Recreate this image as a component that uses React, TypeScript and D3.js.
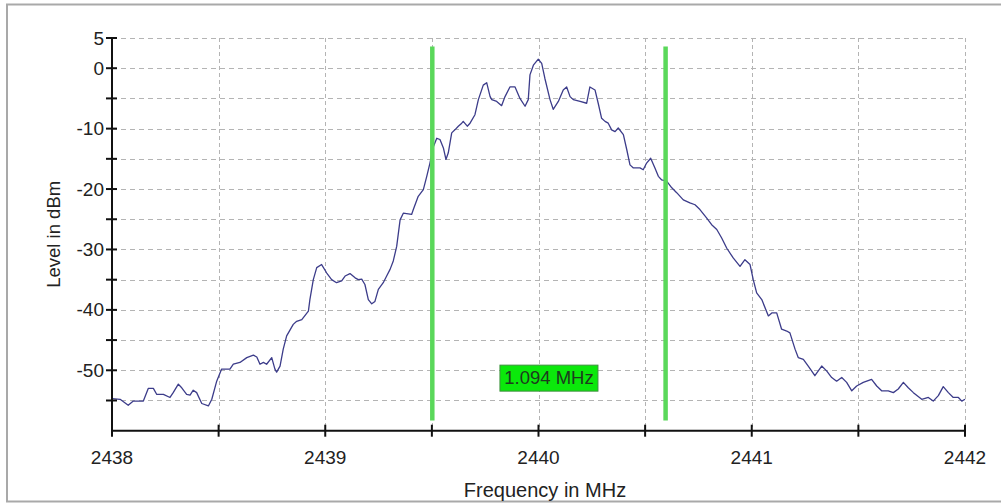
import React from "react";
import * as d3 from "d3";

// Spectrum trace: frequency (MHz) and level (dBm)
const frequencies = [
  2438.0, 2438.038, 2438.076, 2438.1, 2438.147, 2438.17, 2438.194, 2438.21, 2438.241, 2438.272,
  2438.287, 2438.311, 2438.327, 2438.35, 2438.366, 2438.381, 2438.397, 2438.421, 2438.452, 2438.468,
  2438.491, 2438.514, 2438.553, 2438.569, 2438.6, 2438.632, 2438.663, 2438.679, 2438.694, 2438.71,
  2438.725, 2438.749, 2438.764, 2438.772, 2438.788, 2438.803, 2438.819, 2438.85, 2438.866, 2438.89,
  2438.921, 2438.928, 2438.944, 2438.96, 2438.983, 2439.007, 2439.03, 2439.053, 2439.077, 2439.093,
  2439.116, 2439.14, 2439.155, 2439.171, 2439.186, 2439.202, 2439.218, 2439.233, 2439.249, 2439.272,
  2439.288, 2439.304, 2439.319, 2439.335, 2439.351, 2439.366, 2439.405, 2439.413, 2439.436, 2439.46,
  2439.476, 2439.491, 2439.507, 2439.523, 2439.538, 2439.554, 2439.566, 2439.577, 2439.593, 2439.608,
  2439.624, 2439.64, 2439.647, 2439.666, 2439.679, 2439.702, 2439.718, 2439.741, 2439.757, 2439.773,
  2439.781, 2439.804, 2439.827, 2439.843, 2439.866, 2439.89, 2439.913, 2439.937, 2439.952, 2439.96,
  2439.976, 2439.999, 2440.015, 2440.03, 2440.054, 2440.069, 2440.093, 2440.116, 2440.132, 2440.148,
  2440.163, 2440.195, 2440.226, 2440.241, 2440.265, 2440.28, 2440.296, 2440.312, 2440.327, 2440.343,
  2440.359, 2440.374, 2440.398, 2440.414, 2440.429, 2440.445, 2440.476, 2440.491, 2440.507, 2440.526,
  2440.546, 2440.562, 2440.578, 2440.601, 2440.625, 2440.648, 2440.679, 2440.71, 2440.734, 2440.757,
  2440.789, 2440.812, 2440.836, 2440.859, 2440.883, 2440.913, 2440.945, 2440.968, 2440.992, 2441.007,
  2441.023, 2441.047, 2441.078, 2441.094, 2441.117, 2441.14, 2441.164, 2441.179, 2441.203, 2441.218,
  2441.242, 2441.265, 2441.296, 2441.312, 2441.328, 2441.351, 2441.375, 2441.398, 2441.422, 2441.445,
  2441.469, 2441.492, 2441.523, 2441.562, 2441.586, 2441.609, 2441.64, 2441.664, 2441.687, 2441.711,
  2441.734, 2441.758, 2441.797, 2441.828, 2441.851, 2441.875, 2441.898, 2441.922, 2441.945, 2441.969,
  2441.985, 2442.0,
];

const levels = [
  -54.7, -54.8, -55.8, -55.1, -55.1, -53.0, -53.0, -54.0, -54.0, -54.5,
  -53.7, -52.3, -52.9, -54.0, -54.1, -53.3, -53.7, -55.5, -55.9, -54.8,
  -51.8, -49.8, -49.8, -49.0, -48.7, -47.9, -47.5, -47.8, -49.0, -48.7,
  -49.0, -47.9, -49.8, -50.3, -49.3, -46.5, -44.3, -42.4, -41.9, -41.6,
  -40.2, -38.3, -35.0, -33.0, -32.5, -33.9, -35.0, -35.5, -35.2, -34.4,
  -34.0, -34.7, -35.0, -34.9, -35.8, -38.3, -39.0, -38.6, -36.6, -35.5,
  -34.4, -33.3, -31.9, -29.5, -25.1, -24.0, -24.2, -23.4, -21.2, -20.1,
  -17.9, -15.7, -13.0, -11.6, -11.8, -13.2, -15.1, -14.0, -10.7, -10.2,
  -9.6, -9.1, -8.8, -9.6, -9.1, -7.7, -5.2, -2.8, -2.4, -4.7,
  -5.2, -5.5, -6.2, -4.7, -3.1, -3.1, -5.0, -6.3, -5.2, -1.1,
  0.5, 1.5, 0.8, -1.7, -5.2, -6.8, -5.5, -3.6, -3.1, -4.7,
  -5.2, -5.5, -5.8, -3.1, -3.6, -5.8, -8.3, -8.8, -9.1, -10.2,
  -10.5, -9.9, -11.0, -13.5, -16.0, -16.5, -16.5, -16.8, -15.7, -14.9,
  -16.5, -17.9, -18.5, -18.7, -19.8, -20.6, -21.8, -22.3, -22.6, -23.4,
  -24.8, -25.9, -26.7, -28.1, -29.8, -31.4, -32.8, -31.7, -32.5, -35.0,
  -37.2, -38.3, -41.0, -40.5, -40.5, -43.2, -43.5, -43.8, -46.5, -47.9,
  -48.2, -49.3, -50.9, -50.1, -49.3, -50.1, -51.2, -51.8, -51.2, -52.0,
  -53.4, -52.6, -52.0, -51.5, -52.6, -53.4, -53.4, -53.7, -53.1, -52.0,
  -52.9, -53.7, -54.8, -54.5, -55.1, -54.2, -52.7, -53.7, -54.5, -54.5,
  -55.1, -54.8,
];

// Axis ticks
const xTicks = [2438, 2438.5, 2439, 2439.5, 2440, 2440.5, 2441, 2441.5, 2442];
const xTickLabels = [2438, 2439, 2440, 2441, 2442];
const yTicks = [5, 0, -5, -10, -15, -20, -25, -30, -35, -40, -45, -50, -55];
const yTickLabels = [5, 0, -10, -20, -30, -40, -50];

// Bandwidth markers
const markerStart = 2439.502;
const bandwidth = 1.094;
const markerTopLevel = 3.6;
const markerBottomLevel = -58.3;
const bandwidthLabelLevel = -51.3;

const FONT = "'Liberation Sans', Arial, sans-serif";

export default function App() {
  const W = 1001;
  const H = 504;
  const x = d3.scaleLinear().domain([2438, 2442]).range([112, 965]);
  const y = d3.scaleLinear().domain([-60, 5]).range([430.7, 38]);

  const data = frequencies.map((f, i) => [f, levels[i]] as [number, number]);
  const line = d3
    .line<[number, number]>()
    .x((d) => x(d[0]))
    .y((d) => y(d[1]));

  const markerEnd = markerStart + bandwidth;
  const labelX = x((markerStart + markerEnd) / 2);
  const labelY = y(bandwidthLabelLevel);

  return (
    <svg
      width={W}
      height={H}
      style={{ position: "absolute", left: 0, top: 0, background: "#fff" }}
    >
      {/* outer frame */}
      <rect x={7} y={4.5} width={1010} height={497} fill="#fff" stroke="#a9a9a9" strokeWidth={2} />

      {/* grid */}
      <g stroke="#b4b4b4" strokeWidth={1} strokeDasharray="5,4">
        {yTicks.map((t) => (
          <line key={"gy" + t} x1={x(2438)} x2={x(2442)} y1={Math.round(y(t)) + 0.5} y2={Math.round(y(t)) + 0.5} />
        ))}
      </g>
      <g stroke="#b4b4b4" strokeWidth={1} strokeDasharray="4,3">
        {xTicks.slice(1).map((t) => (
          <line key={"gx" + t} x1={Math.round(x(t)) + 0.5} x2={Math.round(x(t)) + 0.5} y1={y(5)} y2={y(-60)} />
        ))}
      </g>

      {/* trace */}
      <path d={line(data) || ""} fill="none" stroke="#3c3c8a" strokeWidth={1.3} strokeLinejoin="round" />

      {/* bandwidth markers */}
      <g stroke="#5ad85a" strokeWidth={4.5}>
        {[markerStart, markerEnd].map((m) => (
          <line key={"m" + m} x1={x(m)} x2={x(m)} y1={y(markerTopLevel)} y2={y(markerBottomLevel)} />
        ))}
      </g>
      <rect
        x={labelX - 49}
        y={labelY - 13}
        width={98}
        height={26}
        fill="#0be80b"
        stroke="#3f8f3f"
        strokeWidth={1}
      />
      <text
        x={labelX}
        y={labelY + 1}
        textAnchor="middle"
        dominantBaseline="middle"
        fontFamily={FONT}
        fontSize={18.5}
        fill="#1e3a1e"
      >
        {bandwidth.toFixed(3)} MHz
      </text>

      {/* axes */}
      <g stroke="#111" strokeWidth={2}>
        <line x1={x(2438)} x2={x(2438)} y1={y(5)} y2={y(-60)} />
        <line x1={x(2438)} x2={x(2442)} y1={y(-60)} y2={y(-60)} />
        {yTicks.map((t) => (
          <line key={"ty" + t} x1={x(2438) - 6} x2={x(2438) + 5} y1={y(t)} y2={y(t)} />
        ))}
        {xTicks.map((t) => (
          <line key={"tx" + t} x1={x(t)} x2={x(t)} y1={y(-60) - 6} y2={y(-60) + 6} />
        ))}
      </g>

      {/* tick labels */}
      <g fontFamily={FONT} fontSize={19} fill="#222">
        {yTickLabels.map((t) => (
          <text key={"ly" + t} x={x(2438) - 8} y={y(t)} textAnchor="end" dominantBaseline="central">
            {t}
          </text>
        ))}
        {xTickLabels.map((t) => (
          <text key={"lx" + t} x={x(t)} y={457} textAnchor="middle" dominantBaseline="central">
            {t}
          </text>
        ))}
      </g>

      {/* axis titles */}
      <text
        transform={`translate(53, ${y(-27.5)}) rotate(-90)`}
        textAnchor="middle"
        dominantBaseline="central"
        fontFamily={FONT}
        fontSize={18.5}
        fill="#222"
      >
        Level in dBm
      </text>
      <text
        x={545}
        y={490}
        textAnchor="middle"
        dominantBaseline="central"
        fontFamily={FONT}
        fontSize={20}
        fill="#222"
      >
        Frequency in MHz
      </text>
    </svg>
  );
}
